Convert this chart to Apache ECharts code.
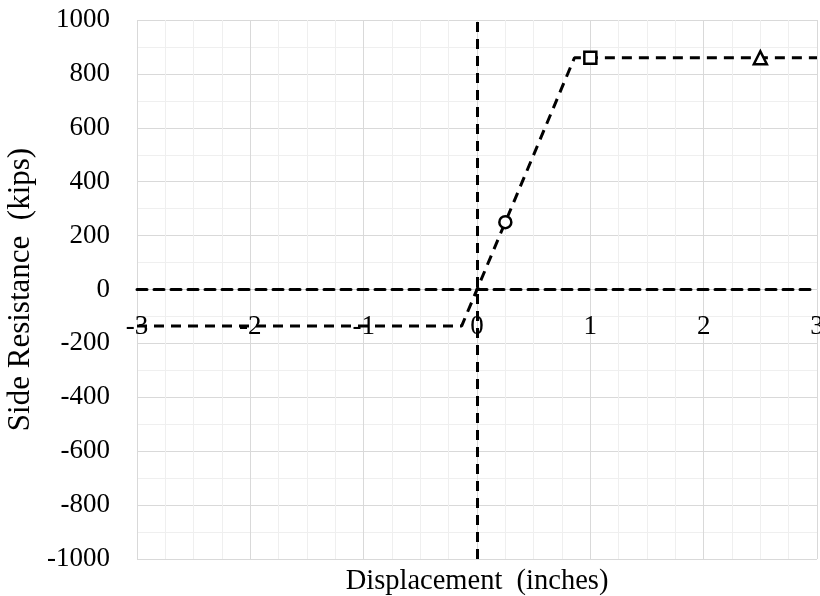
<!DOCTYPE html>
<html>
<head>
<meta charset="utf-8">
<script src="https://cdn.jsdelivr.net/npm/echarts@6/dist/echarts.min.js"></script>
<style>
  html, body { margin: 0; padding: 0; background: #fff; }
  #chart { width: 820px; height: 596px; }
</style>
</head>
<body>
<div id="chart"></div>
<script>
// Side resistance vs. displacement curve (elastic-plastic)
const curveX = [-3, -0.135, 0.86, 3];
const curveY = [-135, -135, 860, 860];

// Highlighted points on the curve
const circlePoint = [0.25, 250];
const squarePoint = [1, 860];
const trianglePoint = [2.5, 860];

const xTicks = { min: -3, max: 3, step: 1 };
const yTicks = { min: -1000, max: 1000, step: 200 };

const xTitle = 'Displacement  (inches)';
const yTitle = 'Side Resistance  (kips)';

const FONT = '"Liberation Serif", "Times New Roman", serif';
const GRID = { left: 137, right: 3, top: 20, bottom: 37 };
const PLOT_H = 596 - GRID.top - GRID.bottom;
// pixel distance from the bottom of the plot up to the y = 0 line
const zeroLift = PLOT_H * (0 - yTicks.min) / (yTicks.max - yTicks.min);

const chart = echarts.init(document.getElementById('chart'), null, { renderer: 'canvas' });

const markerStyle = { color: '#fff', borderColor: '#000', borderWidth: 2.5, opacity: 1 };
const dash = [10, 7];

chart.setOption({
  animation: false,
  backgroundColor: '#fff',
  grid: Object.assign({ containLabel: false, outerBoundsMode: 'none' }, GRID),
  xAxis: [
    {
      // axis drawn through y = 0 with its labels underneath
      type: 'value',
      position: 'bottom',
      offset: -zeroLift,
      min: xTicks.min, max: xTicks.max, interval: xTicks.step,
      axisLine: { show: true, onZero: false, lineStyle: { color: '#000', width: 3, type: dash } },
      axisTick: { show: false },
      axisLabel: { fontFamily: FONT, fontSize: 27, color: '#000', margin: 24, showMinLabel: true, showMaxLabel: true },
      splitLine: { show: true, lineStyle: { color: '#d9d9d9', width: 1 } },
      minorTick: { show: false, splitNumber: 4 },
      minorSplitLine: { show: true, lineStyle: { color: '#efefef', width: 1 } },
      z: 3
    },
    {
      // carries only the title below the plot
      type: 'value',
      position: 'bottom',
      min: xTicks.min, max: xTicks.max,
      axisLine: { show: false, onZero: false },
      axisTick: { show: false },
      axisLabel: { show: false },
      splitLine: { show: false },
      name: xTitle,
      nameLocation: 'middle',
      nameGap: 8,
      nameTextStyle: { fontFamily: FONT, fontSize: 28.5, color: '#000', verticalAlign: 'top' }
    }
  ],
  yAxis: {
    type: 'value',
    min: yTicks.min, max: yTicks.max, interval: yTicks.step,
    axisLine: { show: false },
    axisTick: { show: false },
    axisLabel: { fontFamily: FONT, fontSize: 27, color: '#000', margin: 27, formatter: v => String(v) },
    splitLine: { show: true, lineStyle: { color: '#d9d9d9', width: 1 } },
    minorTick: { show: false, splitNumber: 2 },
    minorSplitLine: { show: true, lineStyle: { color: '#efefef', width: 1 } },
    name: yTitle,
    nameLocation: 'middle',
    nameGap: 99,
    nameTextStyle: { fontFamily: FONT, fontSize: 31, color: '#000' }
  },
  series: [
    {
      type: 'line',
      data: curveX.map((x, i) => [x, curveY[i]]),
      showSymbol: false,
      lineStyle: { color: '#000', width: 3, type: dash },
      z: 4,
      markLine: {
        silent: true,
        symbol: 'none',
        label: { show: false },
        lineStyle: { color: '#000', width: 3, type: dash },
        data: [{ xAxis: 0 }]
      }
    },
    {
      type: 'scatter',
      data: [circlePoint],
      symbol: 'circle',
      symbolSize: 12,
      itemStyle: markerStyle,
      z: 5
    },
    {
      type: 'scatter',
      data: [squarePoint],
      symbol: 'rect',
      symbolSize: 12,
      itemStyle: markerStyle,
      z: 5
    },
    {
      type: 'scatter',
      data: [trianglePoint],
      symbol: 'triangle',
      symbolSize: 13,
      itemStyle: markerStyle,
      z: 5
    }
  ]
});
</script>
</body>
</html>
